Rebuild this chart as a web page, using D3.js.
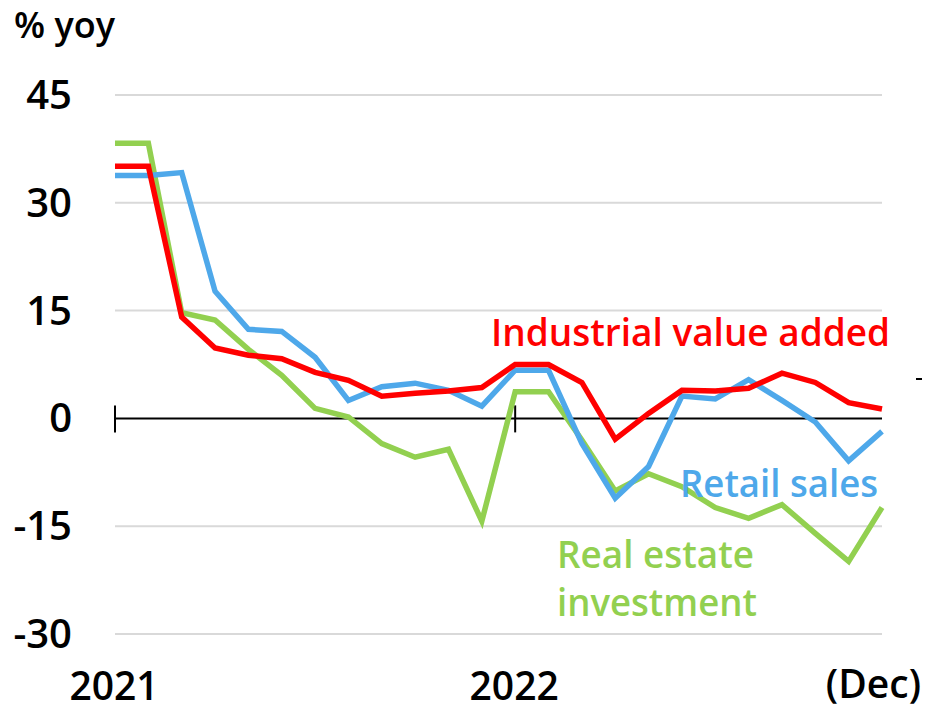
<!DOCTYPE html>
<html>
<head>
<meta charset="utf-8">
<script src="https://cdn.jsdelivr.net/npm/d3@7/dist/d3.min.js"></script>
<style>
  body { margin: 0; background: #fff; }
  svg text { font-family: "Open Sans", sans-serif; font-weight: 600; }
</style>
</head>
<body>
<svg id="chart-area" width="926" height="711"></svg>
<script>
// months Jan 2021 .. Dec 2022 (Jan/Feb reported together)
var months = ["2021-01","2021-02","2021-03","2021-04","2021-05","2021-06","2021-07","2021-08","2021-09","2021-10","2021-11","2021-12",
              "2022-01","2022-02","2022-03","2022-04","2022-05","2022-06","2022-07","2022-08","2022-09","2022-10","2022-11","2022-12"];

var industrial = [35.1, 35.1, 14.1, 9.8, 8.8, 8.3, 6.4, 5.3, 3.1, 3.5, 3.8, 4.3,
                  7.5, 7.5, 5.0, -2.9, 0.7, 3.9, 3.8, 4.2, 6.3, 5.0, 2.2, 1.3];
var retail = [33.8, 33.8, 34.2, 17.7, 12.4, 12.1, 8.5, 2.5, 4.4, 4.9, 3.9, 1.7,
              6.7, 6.7, -3.5, -11.1, -6.7, 3.1, 2.7, 5.4, 2.5, -0.5, -5.9, -1.8];
var realEstate = [38.3, 38.3, 14.7, 13.7, 9.6, 6.0, 1.4, 0.2, -3.5, -5.4, -4.3, -14.3,
                  3.7, 3.7, -3.0, -10.1, -7.7, -9.5, -12.4, -13.9, -12.0, -16.0, -19.9, -12.4];

var yTicks = [-30, -15, 0, 15, 30, 45];
var yearLabels = [{m: "2021-01", text: "2021"}, {m: "2022-01", text: "2022"}];

var svg = d3.select("svg#chart-area");

var x = d3.scalePoint().domain(months).range([115, 882]);
var y = d3.scaleLinear().domain([-30, 45]).range([634, 95]);

// gridlines
svg.selectAll(".grid")
    .data(yTicks.filter(function(d) { return d != 0; }))
    .enter().append("line")
    .attr("class", "grid")
    .attr("x1", 115).attr("x2", 882)
    .attr("y1", function(d) { return y(d); })
    .attr("y2", function(d) { return y(d); })
    .style("stroke", "#d9d9d9").style("stroke-width", 2);

// y labels
svg.selectAll(".ylab")
    .data(yTicks)
    .enter().append("text")
    .attr("class", "ylab")
    .attr("x", 72)
    .attr("y", function(d) { return y(d) + 14; })
    .attr("text-anchor", "end")
    .style("font-size", "40px")
    .text(function(d) { return d; });

// zero axis with year ticks
svg.append("line")
    .attr("x1", 115).attr("x2", 882)
    .attr("y1", y(0)).attr("y2", y(0))
    .style("stroke", "#000").style("stroke-width", 2);

svg.selectAll(".ytick")
    .data(yearLabels)
    .enter().append("line")
    .attr("x1", function(d) { return x(d.m); })
    .attr("x2", function(d) { return x(d.m); })
    .attr("y1", y(0) - 13).attr("y2", y(0) + 14)
    .style("stroke", "#000").style("stroke-width", 2);

svg.selectAll(".year")
    .data(yearLabels)
    .enter().append("text")
    .attr("x", function(d) { return x(d.m) - 1; })
    .attr("y", 700)
    .attr("text-anchor", "middle")
    .style("font-size", "39px")
    .text(function(d) { return d.text; });

svg.append("text").attr("x", 921).attr("y", 698).attr("text-anchor", "end")
    .style("font-size", "39px").text("(Dec)");

svg.append("text").attr("x", 14).attr("y", 38)
    .style("font-size", "36px").text("% yoy");

// stray dash on the right
svg.append("line").attr("x1", 916).attr("x2", 922).attr("y1", 379).attr("y2", 379)
    .style("stroke", "#000").style("stroke-width", 2);

var line = d3.line()
    .x(function(d, i) { return x(months[i]); })
    .y(function(d) { return y(d); });

var series = [
    {values: realEstate, color: "#92d050"},
    {values: retail, color: "#4ea8ea"},
    {values: industrial, color: "#ff0000"}
];

svg.selectAll(".series")
    .data(series)
    .enter().append("path")
    .attr("class", "series")
    .attr("d", function(d) { return line(d.values); })
    .style("fill", "none")
    .style("stroke", function(d) { return d.color; })
    .style("stroke-width", 5.5)
    .style("stroke-linejoin", "miter");

// series labels
svg.append("text").attr("x", 491).attr("y", 346).style("fill", "#ff0000")
    .style("font-size", "38px").attr("textLength", 399).attr("lengthAdjust", "spacingAndGlyphs")
    .text("Industrial value added");
svg.append("text").attr("x", 680).attr("y", 497).style("fill", "#4ea8ea")
    .style("font-size", "38px").attr("textLength", 198).attr("lengthAdjust", "spacingAndGlyphs")
    .text("Retail sales");
svg.append("text").attr("x", 557).attr("y", 568).style("fill", "#92d050")
    .style("font-size", "38px").attr("textLength", 197).attr("lengthAdjust", "spacingAndGlyphs")
    .text("Real estate");
svg.append("text").attr("x", 557).attr("y", 616).style("fill", "#92d050")
    .style("font-size", "38px").attr("textLength", 200).attr("lengthAdjust", "spacingAndGlyphs")
    .text("investment");
</script>
</body>
</html>
